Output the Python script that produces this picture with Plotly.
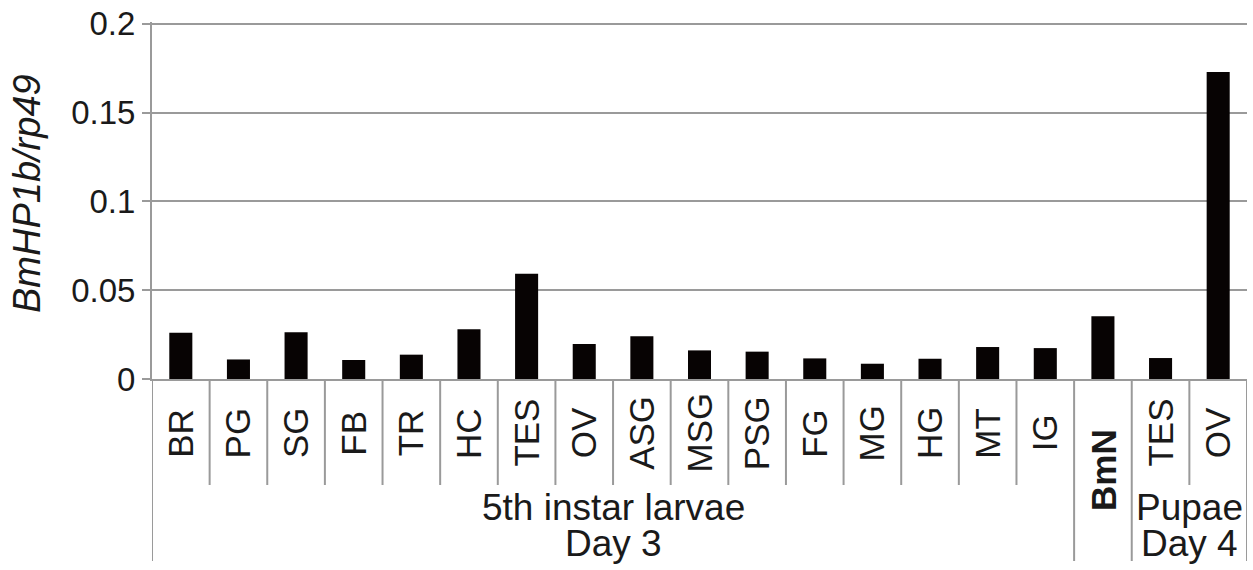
import plotly.graph_objects as go

# ---- data ----
tissues = ["BR", "PG", "SG", "FB", "TR", "HC", "TES", "OV", "ASG", "MSG",
           "PSG", "FG", "MG", "HG", "MT", "IG", "BmN", "TES", "OV"]
values = [0.026, 0.011, 0.0263, 0.0107, 0.0137, 0.028, 0.0593, 0.0197, 0.024, 0.0161,
          0.0154, 0.0116, 0.0086, 0.0114, 0.018, 0.0174, 0.0353, 0.0118, 0.1728]
groups = [("5th instar larvae", "Day 3", 0, 15), ("", "", 16, 16), ("Pupae", "Day 4", 17, 18)]
y_ticks = [0, 0.05, 0.1, 0.15, 0.2]
y_ticktext = ["0", "0.05", "0.1", "0.15", "0.2"]
y_title = "BmHP1b/rp49"

FONT = "Liberation Sans, Arial, Helvetica, sans-serif"
TXT = "#1a1a1a"
GRID = "#9a9a9a"

W, H = 1253, 570
PLOT_L, PLOT_R, PLOT_T, PLOT_B = 152, 1247, 22, 379  # page pixels
Y_MAX = 0.201
ML = PLOT_L
MR = W - PLOT_R
MT_ = PLOT_T
MB = H - PLOT_B
PH = PLOT_B - PLOT_T
PW = PLOT_R - PLOT_L


def py(pix):
    """page pixel y (from top) -> paper y"""
    return (PLOT_B - pix) / PH


def px(pix):
    return (pix - PLOT_L) / PW


xs = list(range(len(tissues)))

fig = go.Figure()
fig.add_trace(go.Bar(x=xs, y=values, width=0.4,
                     marker=dict(color="#070303", line=dict(width=0)),
                     hoverinfo="skip"))

shapes = []
annotations = []

# category dividers
group_edges = set()
for g in groups:
    group_edges.add(g[2] - 0.5)
    group_edges.add(g[3] + 0.5)
for i in range(len(tissues) + 1):
    xb = i - 0.5
    y_end = py(561) if xb in group_edges else py(485)
    shapes.append(dict(type="line", xref="x", yref="paper", x0=xb, x1=xb,
                       y0=0, y1=y_end, line=dict(color=GRID, width=2)))

# category labels
for i, t in enumerate(tissues):
    if t == "BmN":
        annotations.append(dict(x=i, y=py(470), xref="x", yref="paper",
                                text="<b>BmN</b>", showarrow=False, textangle=-90,
                                xanchor="center", yanchor="middle",
                                font=dict(family=FONT, size=35, color=TXT)))
    else:
        annotations.append(dict(x=i, y=py(433), xref="x", yref="paper",
                                text=t, showarrow=False, textangle=-90,
                                xanchor="center", yanchor="middle",
                                font=dict(family=FONT, size=35, color=TXT)))

# group labels
for line1, line2, a, b in groups:
    if not line1:
        continue
    xc = (a + b) / 2
    annotations.append(dict(x=xc, y=py(507), xref="x", yref="paper", text=line1,
                            showarrow=False, xanchor="center", yanchor="middle",
                            font=dict(family=FONT, size=37, color=TXT)))
    annotations.append(dict(x=xc, y=py(543), xref="x", yref="paper", text=line2,
                            showarrow=False, xanchor="center", yanchor="middle",
                            font=dict(family=FONT, size=37, color=TXT)))

# y-axis title
annotations.append(dict(x=px(27), y=py(194), xref="paper", yref="paper",
                        text="<i>" + y_title + "</i>", showarrow=False, textangle=-90,
                        xanchor="center", yanchor="middle",
                        font=dict(family=FONT, size=38, color=TXT)))

fig.update_layout(
    width=W, height=H,
    margin=dict(l=ML, r=MR, t=MT_, b=MB, pad=0, autoexpand=False),
    paper_bgcolor="white", plot_bgcolor="white",
    showlegend=False,
    shapes=shapes,
    annotations=annotations,
    xaxis=dict(range=[-0.5, len(tissues) - 0.5], showticklabels=False, ticks="",
               showgrid=False, zeroline=False, showline=True, linecolor=GRID,
               linewidth=2, fixedrange=True),
    yaxis=dict(range=[0, Y_MAX], tickvals=y_ticks, ticktext=y_ticktext,
               ticks="outside", ticklen=8, tickwidth=2, tickcolor=GRID,
               showgrid=True, gridcolor=GRID, gridwidth=2, zeroline=False,
               showline=True, linecolor=GRID, linewidth=2,
               tickfont=dict(family=FONT, size=33, color=TXT), fixedrange=True),
)

fig.write_html(
    "out.html",
    config={"displayModeBar": False, "staticPlot": True},
    post_script="document.body.style.margin='0';document.body.style.overflow='hidden';",
)
